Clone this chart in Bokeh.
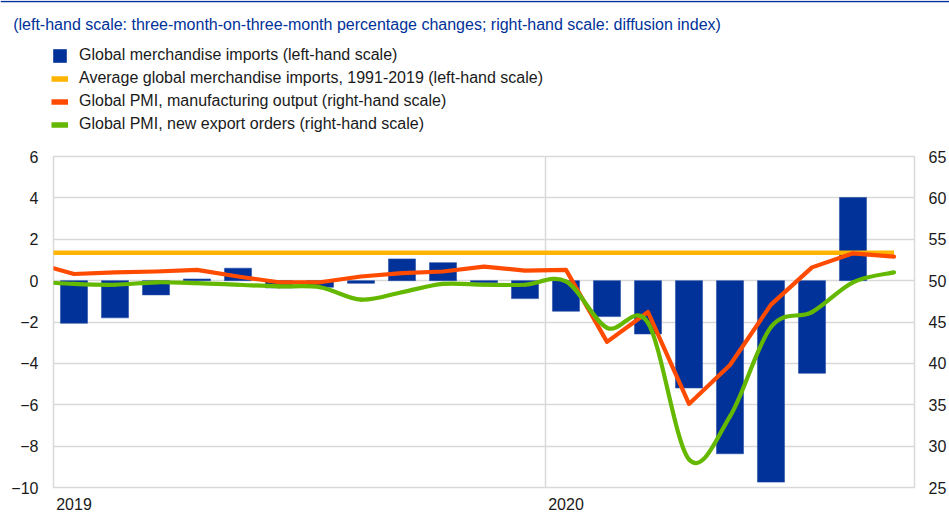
from bokeh.plotting import figure
from bokeh.models import Range1d, LinearAxis, FixedTicker, Label, Legend, LegendItem, Span
from bokeh.embed import file_html
from bokeh.resources import INLINE

# ---------------- data ----------------
title_text = "(left-hand scale: three-month-on-three-month percentage changes; right-hand scale: diffusion index)"
year_ticks = {0: "2019", 12: "2020"}   # label centred under January

# Global merchandise imports, Jan 2019 - Aug 2020 (left-hand scale, %)
imports_idx = list(range(0, 20))
imports = [-2.06, -1.80, -0.69, 0.08, 0.60, -0.35, -0.32, -0.13, 1.05, 0.87,
           -0.10, -0.87, -1.48, -1.74, -2.58, -5.19, -8.37, -9.74, -4.48, 4.02]

# PMI series, Dec 2018 - Sep 2020 (right-hand scale)
pmi_idx = list(range(-1, 21))
pmi_output = [52.2, 50.8, 51.0, 51.1, 51.3, 50.5, 49.8, 49.8, 50.5, 50.9, 51.1,
              51.7, 51.2, 51.3, 42.6, 46.2, 35.1, 39.8, 47.1, 51.6, 53.3, 52.9]
pmi_export = [49.9, 49.6, 49.5, 49.8, 49.7, 49.5, 49.3, 49.2, 47.7, 48.6, 49.6,
              49.5, 49.5, 49.9, 44.3, 44.9, 28.4, 33.6, 44.4, 46.2, 49.8, 51.0]

avg_imports = 1.35  # average 1991-2019
avg_idx = list(range(-1, 21))

left_ticks = [-10, -8, -6, -4, -2, 0, 2, 4, 6]
right_ticks = [25, 30, 35, 40, 45, 50, 55, 60, 65]
year_boundary = [11.5]

labels = ["Global merchandise imports (left-hand scale)",
          "Average global merchandise imports, 1991-2019 (left-hand scale)",
          "Global PMI, manufacturing output (right-hand scale)",
          "Global PMI, new export orders (right-hand scale)"]

BLUE = "#003299"
YELLOW = "#FFB400"
ORANGE = "#FF4B00"
GREEN = "#65B800"
GRID = "#d9d9d9"
TEXT = "#1a1a1a"
FONT = "Liberation Sans"

W = 949
TOP_H = 150
MAIN_H = 377

# ---------------- header (title + legend) ----------------
top = figure(width=W, height=TOP_H, output_backend="svg", toolbar_location=None,
             x_range=Range1d(0, W), y_range=Range1d(TOP_H, 0),
             x_axis_location=None, y_axis_location=None,
             min_border=0, min_border_left=0, min_border_right=0,
             min_border_top=0, min_border_bottom=0)
top.outline_line_color = None
top.grid.visible = False
top.add_layout(Span(location=1, dimension="width", line_color=BLUE, line_width=1.5))
top.add_layout(Label(x=12.7, y=24, text=title_text, text_font=FONT,
                     text_font_size="16px", text_color=BLUE,
                     text_baseline="middle", text_align="left"))

# legend key renderers (hidden in the header, only their styles are shown)
leg_bar = top.vbar(x=imports_idx, top=imports, width=0.5, fill_color=BLUE,
                   line_color=None, visible=False)
leg_avg = top.line(avg_idx, [avg_imports] * len(avg_idx), line_color=YELLOW,
                   line_width=5.5, visible=False)
leg_out = top.line(pmi_idx, pmi_output, line_color=ORANGE, line_width=5.5,
                   visible=False)
leg_exp = top.line(pmi_idx, pmi_export, line_color=GREEN, line_width=5.5,
                   visible=False)

legend = Legend(items=[LegendItem(label=labels[0], renderers=[leg_bar]),
                       LegendItem(label=labels[1], renderers=[leg_avg]),
                       LegendItem(label=labels[2], renderers=[leg_out]),
                       LegendItem(label=labels[3], renderers=[leg_exp])],
                location=(51, 15.75), orientation="vertical",
                padding=0, margin=0, spacing=3,
                glyph_width=17, glyph_height=17, label_height=20,
                label_standoff=11, border_line_color=None,
                background_fill_alpha=0, inactive_fill_alpha=0,
                click_policy="none",
                label_text_font=FONT, label_text_font_size="16px",
                label_text_color=TEXT)
top.add_layout(legend, "center")

# ---------------- main chart ----------------
p = figure(width=W, height=MAIN_H, output_backend="svg", toolbar_location=None,
           x_range=Range1d(-0.5, 20.5), y_range=Range1d(-10, 6),
           min_border_left=53, min_border_right=34, min_border_top=6,
           min_border_bottom=40)
p.extra_y_ranges = {"pmi": Range1d(25, 65)}
p.outline_line_color = GRID
p.outline_line_width = 1.5

for ax in [p.xaxis[0], p.yaxis[0]]:
    ax.axis_line_color = None
    ax.major_tick_line_color = None
    ax.minor_tick_line_color = None
    ax.major_tick_out = 0
    ax.major_tick_in = 0
    ax.minor_tick_out = 0
    ax.major_label_text_font = FONT
    ax.major_label_text_font_size = "16px"
    ax.major_label_text_color = TEXT

p.xaxis.ticker = FixedTicker(ticks=list(year_ticks.keys()))
p.xaxis.major_label_overrides = year_ticks
p.xaxis.major_label_standoff = 10

p.yaxis.ticker = FixedTicker(ticks=left_ticks)
p.yaxis.major_label_standoff = 15

rax = LinearAxis(y_range_name="pmi", ticker=FixedTicker(ticks=right_ticks))
rax.axis_line_color = None
rax.major_tick_line_color = None
rax.minor_tick_line_color = None
rax.major_tick_out = 0
rax.major_tick_in = 0
rax.minor_tick_out = 0
rax.major_label_text_font = FONT
rax.major_label_text_font_size = "16px"
rax.major_label_text_color = TEXT
rax.major_label_standoff = 14
p.add_layout(rax, "right")

p.xgrid.ticker = FixedTicker(ticks=year_boundary)
p.xgrid.grid_line_color = GRID
p.xgrid.grid_line_width = 1.5
p.ygrid.ticker = FixedTicker(ticks=left_ticks)
p.ygrid.grid_line_color = GRID
p.ygrid.grid_line_width = 1.5

bars = p.vbar(x=imports_idx, top=imports, bottom=0, width=0.66,
              fill_color=BLUE, line_color="#2a4fa8", line_width=0.6)

avg = p.line(avg_idx, [avg_imports] * len(avg_idx), line_color=YELLOW,
             line_width=4.5)

out = p.line(pmi_idx, pmi_output, line_color=ORANGE, line_width=4.2,
             line_join="round", line_cap="round", y_range_name="pmi")

# smoothed export-orders curve (cubic Bezier segments through the data points)
n = len(pmi_idx)
x0, y0, x1, y1, cx0, cy0, cx1, cy1 = [], [], [], [], [], [], [], []
for i in range(n - 1):
    a = max(i - 1, 0)
    d = min(i + 2, n - 1)
    x0.append(pmi_idx[i]); y0.append(pmi_export[i])
    x1.append(pmi_idx[i + 1]); y1.append(pmi_export[i + 1])
    cx0.append(pmi_idx[i] + (pmi_idx[i + 1] - pmi_idx[a]) / 6)
    cy0.append(pmi_export[i] + (pmi_export[i + 1] - pmi_export[a]) / 6)
    cx1.append(pmi_idx[i + 1] - (pmi_idx[d] - pmi_idx[i]) / 6)
    cy1.append(pmi_export[i + 1] - (pmi_export[d] - pmi_export[i]) / 6)
p.bezier(x0=x0, y0=y0, x1=x1, y1=y1, cx0=cx0, cy0=cy0, cx1=cx1, cy1=cy1,
         line_color=GREEN, line_width=4.2, line_cap="round", y_range_name="pmi")

open("out.html", "w").write(file_html([top, p], INLINE))
